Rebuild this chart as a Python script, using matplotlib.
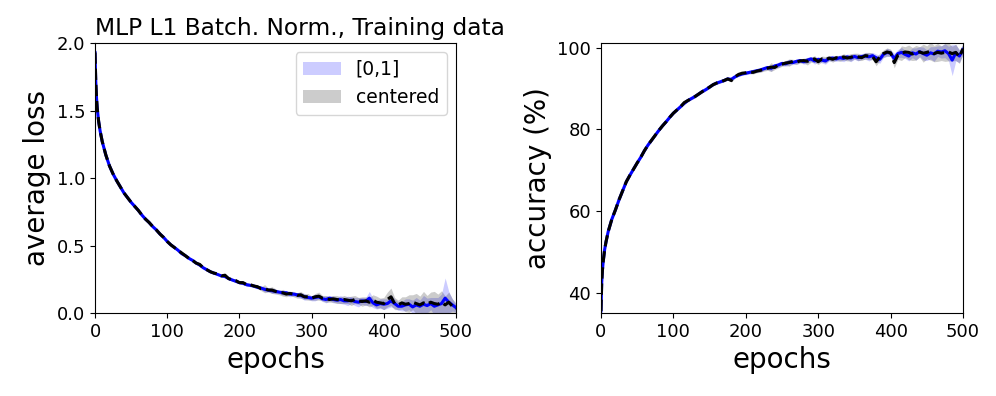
import numpy as np
import matplotlib.pyplot as plt

epochs = [0, 1, 2, 3, 5, 7, 10, 15, 20, 25,
          30, 35, 40, 45, 50, 55, 60, 65, 70, 75,
          80, 85, 90, 95, 100, 105, 110, 115, 120, 125,
          130, 135, 140, 145, 150, 155, 160, 165, 170, 175,
          180, 185, 190, 195, 200, 205, 210, 215, 220, 225,
          230, 235, 240, 245, 250, 255, 260, 265, 270, 275,
          280, 285, 290, 295, 300, 305, 310, 315, 320, 325,
          330, 335, 340, 345, 350, 355, 360, 365, 370, 375,
          380, 385, 390, 395, 400, 405, 410, 415, 420, 425,
          430, 435, 440, 445, 450, 455, 460, 465, 470, 475,
          480, 485, 490, 495, 500]

# average loss, [0,1] inputs
loss_01 = [1.93, 1.72, 1.60, 1.52, 1.42, 1.35, 1.27, 1.17, 1.09, 1.03,
           0.98, 0.935, 0.89, 0.855, 0.82, 0.79, 0.76, 0.725, 0.695, 0.67,
           0.64, 0.615, 0.585, 0.56, 0.53, 0.505, 0.485, 0.465, 0.44, 0.425,
           0.405, 0.39, 0.37, 0.355, 0.335, 0.32, 0.305, 0.295, 0.285, 0.275,
           0.27, 0.255, 0.245, 0.235, 0.225, 0.22, 0.21, 0.205, 0.20, 0.19,
           0.185, 0.175, 0.17, 0.165, 0.16, 0.155, 0.15, 0.15, 0.14, 0.14,
           0.135, 0.13, 0.12, 0.115, 0.11, 0.115, 0.12, 0.105, 0.10, 0.11,
           0.10, 0.095, 0.10, 0.09, 0.09, 0.095, 0.085, 0.08, 0.09, 0.085,
           0.11, 0.075, 0.06, 0.07, 0.065, 0.07, 0.09, 0.07, 0.05, 0.05,
           0.06, 0.065, 0.045, 0.06, 0.05, 0.065, 0.055, 0.07, 0.05, 0.06,
           0.07, 0.11, 0.08, 0.06, 0.04]
loss_01_std = [0.01, 0.01, 0.01, 0.01, 0.008, 0.008, 0.006, 0.006, 0.006, 0.006,
               0.006, 0.006, 0.006, 0.006, 0.006, 0.006, 0.006, 0.006, 0.006, 0.006,
               0.006, 0.006, 0.006, 0.006, 0.006, 0.006, 0.006, 0.006, 0.006, 0.006,
               0.007, 0.007, 0.007, 0.007, 0.007, 0.007, 0.007, 0.007, 0.007, 0.007,
               0.008, 0.008, 0.01, 0.01, 0.01, 0.012, 0.012, 0.01, 0.012, 0.012,
               0.012, 0.018, 0.012, 0.02, 0.015, 0.012, 0.018, 0.015, 0.02, 0.015,
               0.015, 0.02, 0.025, 0.015, 0.02, 0.025, 0.015, 0.02, 0.025, 0.02,
               0.025, 0.02, 0.03, 0.025, 0.035, 0.025, 0.03, 0.035, 0.025, 0.03,
               0.05, 0.035, 0.03, 0.035, 0.04, 0.035, 0.045, 0.035, 0.03, 0.035,
               0.045, 0.04, 0.05, 0.055, 0.045, 0.065, 0.055, 0.045, 0.065, 0.055,
               0.07, 0.15, 0.08, 0.045, 0.035]

# average loss, centered inputs
loss_c = [1.93, 1.72, 1.60, 1.52, 1.42, 1.35, 1.27, 1.17, 1.09, 1.03,
          0.98, 0.935, 0.89, 0.855, 0.82, 0.79, 0.76, 0.725, 0.695, 0.67,
          0.64, 0.615, 0.585, 0.56, 0.53, 0.505, 0.485, 0.465, 0.445, 0.425,
          0.405, 0.39, 0.37, 0.36, 0.335, 0.32, 0.305, 0.295, 0.29, 0.275,
          0.28, 0.255, 0.245, 0.24, 0.225, 0.225, 0.21, 0.21, 0.20, 0.195,
          0.18, 0.18, 0.17, 0.17, 0.16, 0.15, 0.15, 0.14, 0.145, 0.14,
          0.13, 0.135, 0.12, 0.12, 0.11, 0.12, 0.125, 0.11, 0.105, 0.10,
          0.105, 0.10, 0.095, 0.10, 0.095, 0.09, 0.10, 0.09, 0.085, 0.09,
          0.08, 0.095, 0.08, 0.075, 0.07, 0.10, 0.12, 0.07, 0.06, 0.075,
          0.065, 0.07, 0.08, 0.07, 0.06, 0.075, 0.065, 0.08, 0.07, 0.065,
          0.08, 0.06, 0.08, 0.05, 0.03]
loss_c_std = [0.01, 0.01, 0.01, 0.01, 0.008, 0.008, 0.006, 0.006, 0.006, 0.006,
              0.006, 0.006, 0.006, 0.006, 0.006, 0.006, 0.006, 0.006, 0.006, 0.006,
              0.006, 0.006, 0.006, 0.006, 0.006, 0.006, 0.006, 0.006, 0.006, 0.006,
              0.007, 0.007, 0.007, 0.007, 0.007, 0.007, 0.007, 0.007, 0.007, 0.007,
              0.008, 0.008, 0.01, 0.01, 0.01, 0.012, 0.012, 0.01, 0.012, 0.012,
              0.015, 0.03, 0.015, 0.025, 0.02, 0.015, 0.025, 0.02, 0.015, 0.02,
              0.02, 0.025, 0.02, 0.025, 0.015, 0.025, 0.03, 0.02, 0.025, 0.02,
              0.025, 0.03, 0.025, 0.03, 0.025, 0.035, 0.03, 0.025, 0.035, 0.03,
              0.035, 0.04, 0.045, 0.035, 0.045, 0.055, 0.065, 0.045, 0.035, 0.045,
              0.055, 0.065, 0.055, 0.075, 0.065, 0.085, 0.065, 0.075, 0.09, 0.075,
              0.085, 0.065, 0.075, 0.055, 0.035]

# accuracy (%), [0,1] inputs
acc_01 = [35.5, 42.5, 45.5, 47.5, 50.5, 52.5, 55.0, 58.0, 60.3, 62.8,
          65.0, 67.2, 68.8, 70.3, 71.8, 73.2, 74.8, 76.2, 77.4, 78.6,
          79.8, 80.9, 81.9, 83.0, 84.0, 84.8, 85.6, 86.4, 87.1, 87.6,
          88.1, 88.7, 89.3, 89.8, 90.4, 91.0, 91.4, 91.7, 92.0, 92.4,
          92.3, 92.9, 93.3, 93.6, 93.8, 94.0, 94.2, 94.4, 94.6, 94.9,
          95.2, 95.0, 95.6, 95.8, 96.2, 96.1, 96.5, 96.4, 96.7, 96.9,
          96.6, 97.0, 97.3, 96.8, 97.2, 97.0, 96.8, 97.4, 97.5, 97.3,
          97.6, 97.4, 97.8, 97.5, 97.9, 97.6, 97.9, 98.0, 97.8, 98.1,
          97.6, 97.2, 98.4, 98.9, 98.7, 97.4, 98.6, 98.9, 98.4, 98.0,
          98.8, 98.5, 99.1, 98.6, 98.2, 98.8, 98.5, 99.2, 99.0, 99.3,
          98.6, 97.0, 98.8, 98.0, 99.6]
acc_01_std = [0.3, 0.3, 0.3, 0.3, 0.3, 0.3, 0.3, 0.3, 0.3, 0.3,
              0.3, 0.3, 0.3, 0.3, 0.3, 0.3, 0.3, 0.3, 0.3, 0.3,
              0.3, 0.3, 0.3, 0.3, 0.3, 0.3, 0.3, 0.3, 0.3, 0.3,
              0.3, 0.3, 0.3, 0.3, 0.3, 0.3, 0.3, 0.3, 0.3, 0.3,
              0.3, 0.3, 0.3, 0.3, 0.4, 0.4, 0.4, 0.4, 0.5, 0.4,
              0.5, 0.7, 0.5, 0.6, 0.5, 0.6, 0.7, 0.5, 0.6, 0.5,
              0.6, 0.7, 0.6, 0.8, 0.6, 0.7, 0.8, 0.6, 0.7, 0.6,
              0.7, 0.8, 0.7, 0.9, 0.7, 0.8, 0.7, 0.8, 1.0, 0.8,
              0.9, 1.0, 0.8, 1.0, 0.8, 1.3, 1.0, 1.2, 1.0, 1.2,
              1.2, 1.5, 1.2, 1.6, 1.3, 1.5, 1.8, 1.3, 1.5, 1.7,
              1.8, 3.8, 2.0, 1.6, 1.2]

# accuracy (%), centered inputs
acc_c = [35.5, 42.5, 45.5, 47.5, 50.5, 52.5, 55.0, 58.0, 60.3, 62.8,
         65.0, 67.2, 68.8, 70.3, 71.8, 73.2, 74.8, 76.2, 77.4, 78.6,
         79.8, 80.9, 81.9, 83.0, 84.0, 84.8, 85.6, 86.6, 87.1, 87.6,
         88.1, 88.7, 89.3, 89.8, 90.4, 91.0, 91.4, 91.7, 92.0, 92.4,
         92.0, 92.9, 93.5, 93.8, 93.9, 94.1, 94.0, 94.3, 94.5, 94.7,
         95.0, 95.3, 95.2, 95.8, 96.0, 96.3, 96.4, 96.7, 96.5, 96.8,
         96.9, 96.7, 97.1, 97.3, 96.6, 97.3, 97.1, 97.5, 97.2, 97.6,
         97.4, 97.8, 97.5, 97.7, 98.0, 97.8, 97.6, 98.1, 98.0, 97.9,
         96.6, 97.8, 98.6, 99.0, 98.8, 96.4, 98.2, 98.7, 99.0, 98.9,
         98.5, 98.8, 99.0, 98.7, 98.9, 99.2, 98.6, 98.9, 98.7, 98.9,
         99.0, 98.6, 98.9, 97.8, 99.8]
acc_c_std = [0.3, 0.3, 0.3, 0.3, 0.3, 0.3, 0.3, 0.3, 0.3, 0.3,
             0.3, 0.3, 0.3, 0.3, 0.3, 0.3, 0.3, 0.3, 0.3, 0.3,
             0.3, 0.3, 0.3, 0.3, 0.3, 0.3, 0.3, 0.3, 0.3, 0.3,
             0.3, 0.3, 0.3, 0.3, 0.3, 0.3, 0.3, 0.3, 0.3, 0.3,
             0.4, 0.3, 0.3, 0.3, 0.4, 0.4, 0.4, 0.4, 0.5, 0.4,
             0.5, 1.1, 0.5, 0.7, 0.5, 0.6, 0.9, 0.5, 0.6, 0.5,
             0.6, 0.9, 0.6, 0.8, 0.7, 0.7, 0.8, 0.6, 0.7, 0.6,
             0.7, 0.8, 0.7, 0.9, 0.7, 0.9, 0.7, 0.8, 0.9, 0.8,
             1.0, 0.9, 0.9, 1.0, 0.9, 1.3, 1.0, 1.8, 1.3, 1.8,
             1.6, 1.8, 1.3, 2.2, 1.6, 2.2, 2.0, 2.2, 1.8, 2.2,
             2.2, 1.8, 2.0, 1.6, 1.3]

x = np.array(epochs)

fig = plt.figure(figsize=(9.96, 3.96), dpi=100)
ax1 = fig.add_axes([0.0954, 0.2096, 0.3624, 0.6818])
ax2 = fig.add_axes([0.6034, 0.2096, 0.3635, 0.6818])

def draw(ax, m1, s1, m2, s2):
    m1, s1, m2, s2 = map(np.array, (m1, s1, m2, s2))
    ax.fill_between(x, m1 - s1, m1 + s1, color='blue', alpha=0.2, lw=0, label='[0,1]')
    ax.fill_between(x, m2 - s2, m2 + s2, color='k', alpha=0.2, lw=0, label='centered')
    ax.plot(x, m1, color='blue', lw=2.2)
    ax.plot(x, m2, color='k', lw=2.2, ls='--')
    ax.set_xlim(0, 500)
    ax.set_xlabel('epochs', fontsize=20)
    ax.tick_params(labelsize=13)

draw(ax1, loss_01, loss_01_std, loss_c, loss_c_std)
ax1.set_ylim(0, 2.0)
ax1.set_ylabel('average loss', fontsize=20)
ax1.set_title('MLP L1 Batch. Norm., Training data', loc='left', fontsize=16.8)
ax1.legend(loc='upper right', fontsize=13.5)

draw(ax2, acc_01, acc_01_std, acc_c, acc_c_std)
ax2.set_ylim(35, 101.2)
ax2.set_yticks([40, 60, 80, 100])
ax2.set_ylabel('accuracy (%)', fontsize=20)

plt.savefig('out.png', dpi=100)
